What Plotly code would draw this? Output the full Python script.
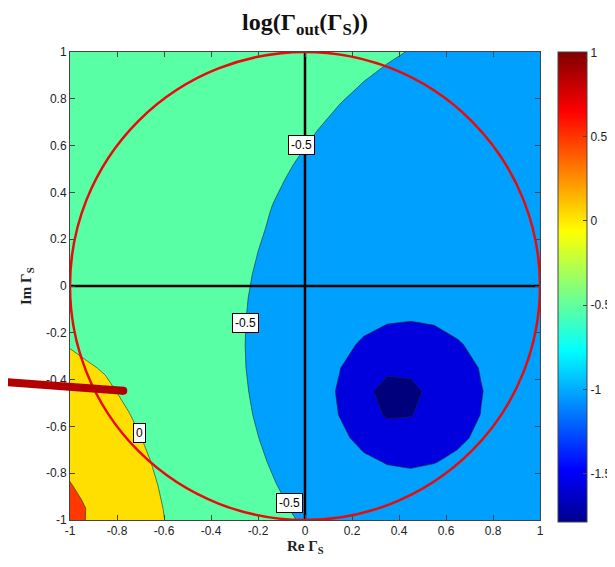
import plotly.graph_objects as go

# ---------------- data ----------------
grid_x = [-1.05, -0.95, -0.85, -0.75, -0.65, -0.55, -0.45, -0.35, -0.25, -0.15, -0.05,
          0.05, 0.15, 0.25, 0.35, 0.45, 0.55, 0.65, 0.75, 0.85, 0.95, 1.05]
grid_y = [-1.05, -0.95, -0.85, -0.75, -0.65, -0.55, -0.45, -0.35, -0.25, -0.15, -0.05,
          0.05, 0.15, 0.25, 0.35, 0.45, 0.55, 0.65, 0.75, 0.85, 0.95, 1.05]

# log(|Gamma_out|) on the grid, one row per grid_y value (bottom to top)
z_values = [
    [0.669, 0.530, 0.306, 0.175, 0.061, -0.041, -0.136, -0.225, -0.310, -0.390, -0.467, -0.538, -0.601, -0.655, -0.695, -0.721, -0.732, -0.731, -0.722, -0.707, -0.690, -0.672],
    [0.706, 0.540, 0.304, 0.167, 0.049, -0.058, -0.157, -0.251, -0.341, -0.429, -0.514, -0.595, -0.669, -0.732, -0.778, -0.803, -0.808, -0.797, -0.778, -0.754, -0.728, -0.703],
    [0.611, 0.426, 0.272, 0.142, 0.025, -0.081, -0.182, -0.280, -0.376, -0.471, -0.566, -0.660, -0.749, -0.827, -0.882, -0.905, -0.899, -0.873, -0.838, -0.801, -0.766, -0.734],
    [0.474, 0.345, 0.219, 0.102, -0.007, -0.111, -0.211, -0.310, -0.410, -0.512, -0.618, -0.727, -0.839, -0.944, -1.019, -1.040, -1.010, -0.957, -0.900, -0.847, -0.801, -0.761],
    [0.352, 0.258, 0.157, 0.055, -0.045, -0.144, -0.242, -0.341, -0.442, -0.550, -0.665, -0.792, -0.935, -1.090, -1.218, -1.230, -1.142, -1.041, -0.956, -0.886, -0.830, -0.783],
    [0.250, 0.177, 0.094, 0.006, -0.085, -0.177, -0.271, -0.368, -0.470, -0.579, -0.700, -0.841, -1.013, -1.245, -1.560, -1.527, -1.273, -1.108, -0.995, -0.913, -0.849, -0.797],
    [0.167, 0.106, 0.036, -0.042, -0.124, -0.209, -0.297, -0.390, -0.489, -0.597, -0.718, -0.859, -1.037, -1.292, -1.775, -1.672, -1.310, -1.126, -1.007, -0.921, -0.856, -0.803],
    [0.098, 0.030, -0.016, -0.085, -0.159, -0.237, -0.320, -0.407, -0.501, -0.602, -0.715, -0.844, -0.996, -1.177, -1.349, -1.350, -1.214, -1.087, -0.988, -0.911, -0.850, -0.800],
    [0.012, -0.035, -0.062, -0.123, -0.190, -0.261, -0.337, -0.418, -0.504, -0.597, -0.697, -0.806, -0.923, -1.039, -1.124, -1.139, -1.089, -1.017, -0.947, -0.885, -0.833, -0.788],
    [-0.030, -0.051, -0.100, -0.156, -0.216, -0.281, -0.350, -0.424, -0.501, -0.583, -0.670, -0.759, -0.848, -0.927, -0.982, -0.999, -0.981, -0.942, -0.896, -0.850, -0.808, -0.770],
    [-0.049, -0.088, -0.133, -0.183, -0.238, -0.297, -0.359, -0.425, -0.494, -0.566, -0.639, -0.712, -0.780, -0.839, -0.880, -0.898, -0.894, -0.873, -0.844, -0.812, -0.779, -0.749],
    [-0.084, -0.120, -0.161, -0.206, -0.255, -0.308, -0.364, -0.423, -0.484, -0.546, -0.608, -0.668, -0.723, -0.769, -0.802, -0.820, -0.823, -0.813, -0.795, -0.773, -0.749, -0.724],
    [-0.113, -0.146, -0.184, -0.225, -0.269, -0.317, -0.367, -0.419, -0.473, -0.526, -0.579, -0.629, -0.675, -0.712, -0.741, -0.758, -0.764, -0.761, -0.750, -0.735, -0.718, -0.699],
    [-0.138, -0.169, -0.203, -0.240, -0.281, -0.323, -0.368, -0.414, -0.461, -0.508, -0.553, -0.595, -0.633, -0.666, -0.690, -0.706, -0.715, -0.715, -0.710, -0.701, -0.688, -0.674],
    [-0.164, -0.193, -0.224, -0.258, -0.294, -0.333, -0.372, -0.413, -0.454, -0.495, -0.534, -0.571, -0.603, -0.631, -0.653, -0.669, -0.678, -0.681, -0.679, -0.674, -0.665, -0.655],
    [-0.182, -0.208, -0.237, -0.268, -0.301, -0.335, -0.371, -0.407, -0.443, -0.479, -0.513, -0.545, -0.573, -0.598, -0.618, -0.632, -0.642, -0.647, -0.647, -0.645, -0.639, -0.632],
    [-0.197, -0.222, -0.248, -0.276, -0.306, -0.337, -0.369, -0.401, -0.433, -0.464, -0.494, -0.522, -0.547, -0.569, -0.587, -0.601, -0.611, -0.617, -0.619, -0.618, -0.615, -0.610],
    [-0.210, -0.233, -0.257, -0.282, -0.309, -0.337, -0.366, -0.395, -0.423, -0.451, -0.478, -0.502, -0.525, -0.544, -0.561, -0.574, -0.584, -0.590, -0.593, -0.594, -0.593, -0.590],
    [-0.221, -0.242, -0.264, -0.288, -0.312, -0.337, -0.363, -0.389, -0.414, -0.439, -0.463, -0.485, -0.505, -0.523, -0.538, -0.550, -0.560, -0.566, -0.571, -0.573, -0.573, -0.571],
    [-0.231, -0.250, -0.270, -0.292, -0.314, -0.337, -0.360, -0.383, -0.406, -0.428, -0.450, -0.469, -0.488, -0.504, -0.518, -0.529, -0.539, -0.546, -0.550, -0.553, -0.554, -0.553],
    [-0.239, -0.257, -0.275, -0.295, -0.315, -0.336, -0.357, -0.378, -0.399, -0.419, -0.438, -0.456, -0.472, -0.487, -0.500, -0.511, -0.520, -0.527, -0.532, -0.535, -0.537, -0.537],
    [-0.246, -0.262, -0.279, -0.297, -0.316, -0.335, -0.354, -0.373, -0.392, -0.410, -0.427, -0.443, -0.459, -0.472, -0.484, -0.494, -0.503, -0.510, -0.515, -0.519, -0.521, -0.522],
]

level_start, level_end, level_step = -1.5, 0.5, 0.5
# fill colours of the bands: below -1.5, -1.5..-1, -1..-0.5, -0.5..0, 0..0.5, above 0.5
band_colors = ["rgb(0,0,125)", "rgb(0,0,222)", "rgb(0,160,255)",
               "rgb(88,255,164)", "rgb(255,223,0)", "rgb(255,56,0)"]

# contour labels: text, x, y
label_text = ["-0.5", "-0.5", "-0.5", "0"]
label_x = [-0.017, -0.252, -0.064, -0.703]
label_y = [0.603, -0.159, -0.927, -0.628]

axis_ticks = [-1, -0.8, -0.6, -0.4, -0.2, 0, 0.2, 0.4, 0.6, 0.8, 1]
axis_tick_text = ["-1", "-0.8", "-0.6", "-0.4", "-0.2", "0", "0.2", "0.4", "0.6", "0.8", "1"]

cbar_min, cbar_max = -1.79, 1.0
cbar_ticks = [-1.5, -1, -0.5, 0, 0.5, 1]
cbar_tick_text = ["-1.5", "-1", "-0.5", "0", "0.5", "1"]

unit_radius = 1.0
cross_span = [-1, 1]
cross_zero = [0, 0]

# dark red pointer stroke (paper coordinates), from slide annotation
pointer_x = [-0.149, 0.1134]
pointer_y = [0.2955, 0.2763]

# ---------------- figure ----------------
n_bands = len(band_colors)
colorscale = []
for k, c in enumerate(band_colors):
    lo = max(0.0, (k - 0.5) / (n_bands - 1))
    hi = min(1.0, (k + 0.5) / (n_bands - 1))
    colorscale.append([lo, c])
    colorscale.append([hi, c])

jet = [[0.0, "rgb(0,0,143)"], [0.111, "rgb(0,0,255)"], [0.365, "rgb(0,255,255)"],
       [0.619, "rgb(255,255,0)"], [0.873, "rgb(255,0,0)"], [1.0, "rgb(128,0,0)"]]

fig = go.Figure()
fig.add_trace(go.Contour(
    x=grid_x, y=grid_y, z=z_values,
    autocontour=False,
    contours=dict(start=level_start, end=level_end, size=level_step,
                  coloring="fill", showlines=True),
    line=dict(color="rgba(20,40,40,0.75)", width=0.8, smoothing=0),
    colorscale=colorscale, showscale=False, hoverinfo="skip",
))

# crosshair axes
fig.add_trace(go.Scatter(x=cross_span, y=cross_zero, mode="lines",
                         line=dict(color="black", width=2.5), hoverinfo="skip", showlegend=False))
fig.add_trace(go.Scatter(x=cross_zero, y=cross_span, mode="lines",
                         line=dict(color="black", width=2.5), hoverinfo="skip", showlegend=False))

# colourbar carrier
fig.add_trace(go.Scatter(
    x=[None], y=[None], mode="markers", hoverinfo="skip", showlegend=False,
    marker=dict(color=[cbar_min], colorscale=jet, cmin=cbar_min, cmax=cbar_max, showscale=True,
                colorbar=dict(x=1.038, xanchor="left", xpad=0, y=0.497, yanchor="middle", ypad=0,
                              len=1.004, lenmode="fraction", thickness=29, thicknessmode="pixels",
                              outlinecolor="#444", outlinewidth=1,
                              tickvals=cbar_ticks, ticktext=cbar_tick_text,
                              ticks="inside", ticklen=4, tickcolor="#444",
                              tickfont=dict(family="Liberation Sans, Arial", size=12, color="#222"))),
))

fig.add_shape(type="circle", xref="x", yref="y",
              x0=-unit_radius, y0=-unit_radius, x1=unit_radius, y1=unit_radius,
              line=dict(color="rgb(235,10,10)", width=2.5))

fig.add_shape(type="line", xref="paper", yref="paper",
              x0=pointer_x[0], y0=pointer_y[0], x1=pointer_x[1], y1=pointer_y[1],
              line=dict(color="rgb(178,0,0)", width=8))
fig.add_shape(type="circle", xref="paper", yref="paper",
              x0=pointer_x[1] - 0.0085, y0=pointer_y[1] - 0.0086,
              x1=pointer_x[1] + 0.0085, y1=pointer_y[1] + 0.0086,
              fillcolor="rgb(178,0,0)", line=dict(width=0))

for t, lx, ly in zip(label_text, label_x, label_y):
    fig.add_annotation(x=lx, y=ly, xref="x", yref="y", text=t, showarrow=False,
                       font=dict(family="Liberation Sans, Arial", size=12, color="black"),
                       bgcolor="white", bordercolor="black", borderwidth=1, borderpad=2)

fig.add_annotation(x=0.5, y=-0.058, xref="paper", yref="paper", showarrow=False,
                   text="<b>Re Γ<sub>S</sub></b>", yanchor="middle",
                   font=dict(family="Liberation Serif, Times New Roman", size=15, color="#222"))
fig.add_annotation(x=-0.0915, y=0.5, xref="paper", yref="paper", showarrow=False,
                   text="<b>Im Γ<sub>S</sub></b>", textangle=-90, xanchor="center",
                   font=dict(family="Liberation Serif, Times New Roman", size=15, color="#222"))

axis_common = dict(range=[-1, 1], tickvals=axis_ticks, ticktext=axis_tick_text,
                   ticks="inside", ticklen=5, tickcolor="#444", mirror="allticks",
                   showline=True, linecolor="#444", linewidth=1,
                   showgrid=False, zeroline=False,
                   tickfont=dict(family="Liberation Sans, Arial", size=12, color="#222"))

# the page body adds an 8 px offset, so the figure is made 8 px smaller on the top/left
fig.update_layout(
    width=607, height=559,
    margin=dict(l=62, r=75, t=44, b=47, autoexpand=False),
    paper_bgcolor="white", plot_bgcolor="white",
    showlegend=False,
    title=dict(text="<b>log(Γ<sub>out</sub>(Γ<sub>S</sub>))</b>", x=0.5, xref="paper",
               y=0.975, yref="container", yanchor="middle",
               font=dict(family="Liberation Serif, Times New Roman", size=24, color="#111")),
    xaxis=dict(**axis_common),
    yaxis=dict(**axis_common),
)

fig.write_html("out.html")
